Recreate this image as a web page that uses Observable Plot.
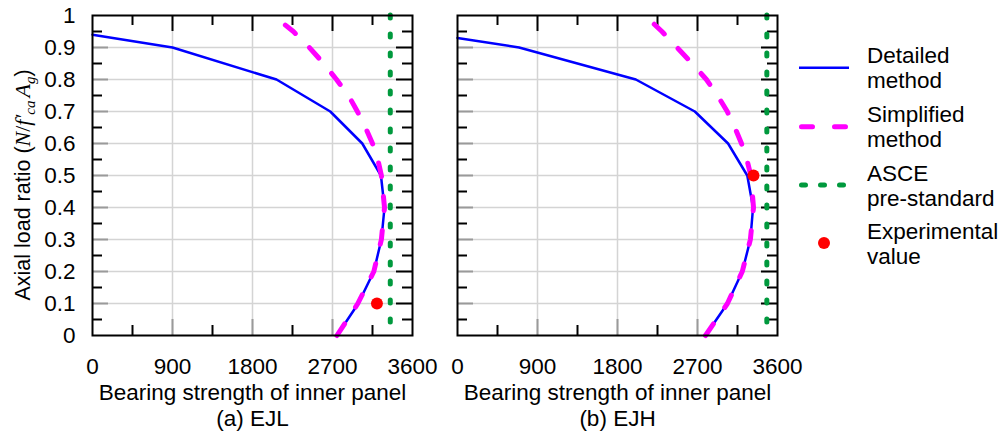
<!DOCTYPE html>
<html>
<head>
<meta charset="utf-8">
<script src="https://cdn.jsdelivr.net/npm/d3@7"></script>
<script src="https://cdn.jsdelivr.net/npm/@observablehq/plot@0.6"></script>
<style>
  html, body { margin: 0; padding: 0; background: #fff; }
  #wrap { position: relative; width: 1002px; height: 432px; font-family: "Liberation Sans", Arial, sans-serif; }
  #wrap > svg { position: absolute; top: 0; }
</style>
</head>
<body>
<div id="wrap"></div>
<script>
// ---- data ----
const xTicks = [0, 900, 1800, 2700, 3600];
const xTickLabels = ["0", "900", "1800", "2700", "3600"];
const xGrid = [900, 1800, 2700];
const xMinor = [450, 1350, 2250, 3150];
const yTicks = [0, 0.1, 0.2, 0.3, 0.4, 0.5, 0.6, 0.7, 0.8, 0.9, 1];
const yTickLabels = ["0", "0.1", "0.2", "0.3", "0.4", "0.5", "0.6", "0.7", "0.8", "0.9", "1"];
const yGrid = [0.1, 0.2, 0.3, 0.4, 0.5, 0.6, 0.7, 0.8, 0.9];
const yMinor = [0.05, 0.15, 0.25, 0.35, 0.45, 0.55, 0.65, 0.75, 0.85, 0.95];

const panelTitles = ["(a) EJL", "(b) EJH"];
const xLabel = "Bearing strength of inner panel";
const seriesNames = ["Detailed\nmethod", "Simplified\nmethod", "ASCE\npre-standard", "Experimental\nvalue"];

// EJL
const detailedEJL_ratio    = [0, 0.1, 0.2, 0.3, 0.4, 0.5, 0.6, 0.7, 0.8, 0.9, 0.94];
const detailedEJL_strength = [2750, 2990, 3165, 3250, 3285, 3245, 3035, 2675, 2070, 900, 0];
const simplifiedEJL_ratio    = [0, 0.1, 0.2, 0.3, 0.4, 0.5, 0.55, 0.6, 0.65, 0.7, 0.75, 0.8, 0.85, 0.9, 0.95, 0.97];
const simplifiedEJL_strength = [2750, 2985, 3165, 3250, 3285, 3250, 3210, 3150, 3070, 2980, 2880, 2745, 2600, 2440, 2260, 2170];
const asceEJL = 3350;
const expEJL_strength = 3200, expEJL_ratio = 0.1;

// EJH
const detailedEJH_ratio    = [0, 0.1, 0.2, 0.3, 0.4, 0.5, 0.6, 0.7, 0.8, 0.9, 0.93];
const detailedEJH_strength = [2790, 3037, 3204, 3295, 3325, 3260, 3044, 2670, 2006, 693, 0];
const simplifiedEJH_ratio    = [0, 0.1, 0.2, 0.3, 0.4, 0.5, 0.55, 0.6, 0.65, 0.7, 0.75, 0.8, 0.85, 0.9, 0.95, 1.0];
const simplifiedEJH_strength = [2790, 3037, 3204, 3295, 3330, 3300, 3255, 3195, 3120, 3035, 2925, 2800, 2640, 2470, 2300, 2110];
const asceEJH = 3480;
const expEJH_strength = 3330, expEJH_ratio = 0.5;

// ---- styles ----
const C = { blue: "#0000ff", magenta: "#ff00ff", green: "#00993d", red: "#ff0000", grid: "#d4d4d4", tickGray: "#9a9a9a" };
const FONT = '"Liberation Sans", Arial, sans-serif';
const FS = 22.5;
const FRAME = 320;

const zip = (xs, ys) => xs.map((x, i) => ({x, y: ys[i]}));

function panel({detS, detR, simS, simR, asce, expS, expR, title, showY, marginLeft, marginRight}) {
  const width = marginLeft + FRAME + marginRight;
  const marks = [
    Plot.gridX(xGrid, {stroke: C.grid, strokeOpacity: 1, strokeWidth: 1.5}),
    Plot.gridY(yGrid, {stroke: C.grid, strokeOpacity: 1, strokeWidth: 1.5}),
    // bottom ticks
    Plot.tickX(xGrid, {x: d => d, insetTop: FRAME - 16, stroke: C.tickGray, strokeWidth: 2}),
    Plot.tickX(xMinor, {x: d => d, insetTop: FRAME - 10, stroke: "#000", strokeWidth: 2}),
    // top ticks
    Plot.tickX(xGrid, {x: d => d, insetBottom: FRAME - 16, stroke: "#000", strokeWidth: 2}),
    Plot.tickX(xMinor, {x: d => d, insetBottom: FRAME - 10, stroke: "#000", strokeWidth: 2}),
    // left ticks
    Plot.tickY(yGrid, {y: d => d, insetRight: FRAME - 16, stroke: C.tickGray, strokeWidth: 2}),
    Plot.tickY(yMinor, {y: d => d, insetRight: FRAME - 10, stroke: "#000", strokeWidth: 2}),
    // right ticks
    Plot.tickY(yGrid, {y: d => d, insetLeft: FRAME - 16, stroke: "#000", strokeWidth: 2}),
    Plot.tickY(yMinor, {y: d => d, insetLeft: FRAME - 10, stroke: "#000", strokeWidth: 2}),
    // series
    Plot.ruleX([asce], {stroke: C.green, strokeWidth: 5, strokeDasharray: "3,16", strokeLinecap: "round"}),
    Plot.line(zip(detS, detR), {x: "x", y: "y", stroke: C.blue, strokeWidth: 2.5}),
    Plot.line(zip(simS, simR), {x: "x", y: "y", stroke: C.magenta, strokeWidth: 5, strokeDasharray: "14,20", strokeLinecap: "round"}),
    Plot.dot([{x: expS, y: expR}], {x: "x", y: "y", r: 6, fill: C.red, stroke: null}),
    Plot.frame({stroke: "#000", strokeWidth: 2}),
    Plot.axisX({ticks: xTicks, tickFormat: d => xTickLabels[xTicks.indexOf(d)], tickSize: 0, tickPadding: 23, label: null, fontSize: FS}),
    Plot.text([xLabel + "\n" + title], {frameAnchor: "bottom", lineAnchor: "top", dy: 47, fontSize: FS, lineHeight: 1.12, fill: "#000"})
  ];
  if (showY) marks.push(Plot.axisY({ticks: yTicks, tickFormat: d => yTickLabels[yTicks.indexOf(d)], tickSize: 0, tickPadding: 17, label: null, fontSize: FS}));
  else marks.push(Plot.axisY({ticks: [], label: null, tickSize: 0}));
  return Plot.plot({
    width, height: 432,
    marginLeft, marginRight, marginTop: 15, marginBottom: 97,
    x: {domain: [0, 3600]},
    y: {domain: [0, 1]},
    style: {fontFamily: FONT, fontSize: FS + "px", background: "transparent", overflow: "visible", color: "#000"},
    marks
  });
}

const wrap = document.getElementById("wrap");

const left = panel({detS: detailedEJL_strength, detR: detailedEJL_ratio, simS: simplifiedEJL_strength, simR: simplifiedEJL_ratio,
  asce: asceEJL, expS: expEJL_strength, expR: expEJL_ratio, title: panelTitles[0], showY: true, marginLeft: 92, marginRight: 8});
left.style.left = "0px";
wrap.appendChild(left);

// y-axis label with math
const yl = d3.select(left).append("text")
  .attr("transform", "translate(30,185) rotate(-90)")
  .attr("text-anchor", "middle")
  .attr("font-size", 21.5)
  .attr("fill", "#000")
  .attr("font-family", FONT);
yl.append("tspan").text("Axial load ratio (");
const mf = '"Liberation Serif", "Times New Roman", serif';
yl.append("tspan").attr("font-family", mf).attr("font-style", "italic").attr("font-size", 22).text("N");
yl.append("tspan").attr("font-family", mf).attr("font-size", 22).text("/");
yl.append("tspan").attr("font-family", mf).attr("font-style", "italic").attr("font-size", 22).text("f′");
yl.append("tspan").attr("font-family", mf).attr("font-style", "italic").attr("font-size", 15).attr("dy", 5).text("ca");
yl.append("tspan").attr("font-family", mf).attr("font-style", "italic").attr("font-size", 22).attr("dy", -5).attr("dx", 3).text("A");
yl.append("tspan").attr("font-family", mf).attr("font-style", "italic").attr("font-size", 15).attr("dy", 5).text("g");
yl.append("tspan").attr("dy", -5).text(")");

const right = panel({detS: detailedEJH_strength, detR: detailedEJH_ratio, simS: simplifiedEJH_strength, simR: simplifiedEJH_ratio,
  asce: asceEJH, expS: expEJH_strength, expR: expEJH_ratio, title: panelTitles[1], showY: false, marginLeft: 37, marginRight: 5});
right.style.left = "420px";
wrap.appendChild(right);

// ---- legend ----
const lg = d3.select(wrap).append("svg")
  .attr("width", 222).attr("height", 432)
  .style("left", "780px").style("position", "absolute").style("top", "0px")
  .attr("font-family", FONT).attr("font-size", FS);
const rows = [
  {y: 67.7, kind: "line"},
  {y: 126.7, kind: "dash"},
  {y: 185, kind: "dot"},
  {y: 243, kind: "point"}
];
rows.forEach((r, i) => {
  if (r.kind === "line") lg.append("line").attr("x1", 19).attr("x2", 69).attr("y1", r.y).attr("y2", r.y).attr("stroke", C.blue).attr("stroke-width", 2.5);
  if (r.kind === "dash") lg.append("line").attr("x1", 21.5).attr("x2", 65.5).attr("y1", r.y).attr("y2", r.y).attr("stroke", C.magenta).attr("stroke-width", 5).attr("stroke-linecap", "round").attr("stroke-dasharray", "11,22");
  if (r.kind === "dot") lg.append("line").attr("x1", 21.5).attr("x2", 64.5).attr("y1", r.y).attr("y2", r.y).attr("stroke", C.green).attr("stroke-width", 5).attr("stroke-linecap", "round").attr("stroke-dasharray", "4,15");
  if (r.kind === "point") lg.append("circle").attr("cx", 44).attr("cy", r.y).attr("r", 6).attr("fill", C.red);
  const lines = seriesNames[i].split("\n");
  const t = lg.append("text").attr("x", 87).attr("y", r.y - 4.5).attr("fill", "#000");
  lines.forEach((s, j) => t.append("tspan").attr("x", 87).attr("dy", j === 0 ? 0 : 25).text(s));
});
</script>
</body>
</html>
